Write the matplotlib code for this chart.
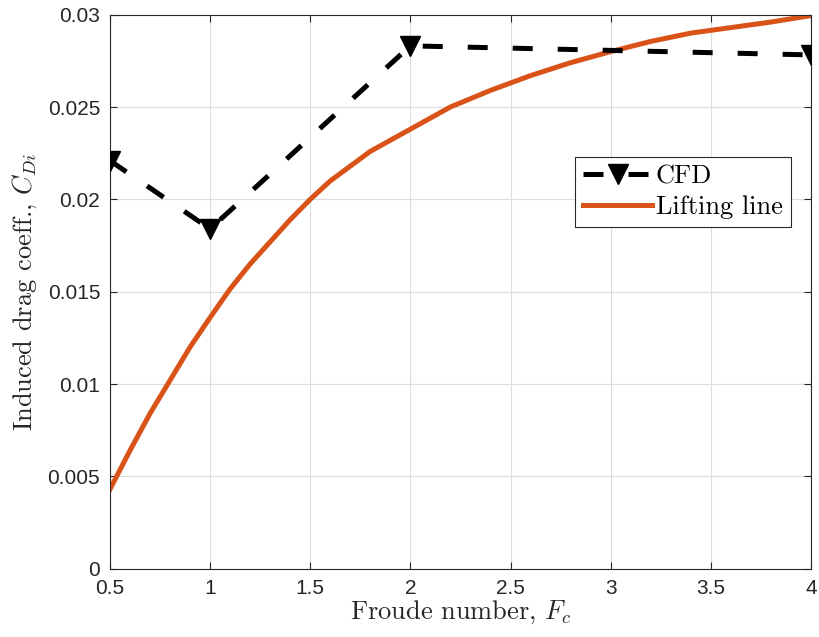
import numpy as np
import matplotlib
matplotlib.use('Agg')
import matplotlib.pyplot as plt

# CFD results
fc_cfd = [0.5, 1.0, 2.0, 4.0]
cd_cfd = [0.0221, 0.0184, 0.02831, 0.02782]

# lifting line theory
fc_ll = [0.5, 0.6, 0.7, 0.8, 0.9, 1.0, 1.1, 1.2, 1.3, 1.4, 1.5, 1.6, 1.7, 1.8,
         1.9, 2.0, 2.2, 2.4, 2.6, 2.8, 3.0, 3.2, 3.4, 3.6, 3.8, 4.0]
cd_ll = [0.0043, 0.0064, 0.0084, 0.0102, 0.0120, 0.0136, 0.01515, 0.0165, 0.0177,
         0.0189, 0.0200, 0.0210, 0.0218, 0.0226, 0.0232, 0.0238, 0.0250, 0.0259,
         0.0267, 0.0274, 0.0280, 0.02855, 0.0290, 0.0293, 0.0296, 0.02995]

xticks = [0.5, 1, 1.5, 2, 2.5, 3, 3.5, 4]
yticks = [0, 0.005, 0.01, 0.015, 0.02, 0.025, 0.03]

plt.rcParams['mathtext.fontset'] = 'cm'
axcol = '#262626'

fig = plt.figure(figsize=(8.2, 6.37), dpi=100)
ax = fig.add_axes([0.134, 0.107, 0.855, 0.870])

ax.plot(fc_cfd, cd_cfd, color='k', linewidth=3.6, dashes=(4, 5),
        marker='v', markersize=15, label='CFD', zorder=3)
ax.plot(fc_ll, cd_ll, color='#D95319', linewidth=3.6, label='Lifting line',
        zorder=2)

ax.set_xlim(0.5, 4)
ax.set_ylim(0, 0.03)
ax.set_xticks(xticks)
ax.set_yticks(yticks)
ax.set_xticklabels(['%g' % t for t in xticks])
ax.set_yticklabels(['%g' % t for t in yticks])
ax.tick_params(direction='in', length=5, width=0.8, top=True, right=True,
               labelsize=15, colors=axcol, labelcolor=axcol, pad=7)
for lab in ax.get_xticklabels() + ax.get_yticklabels():
    lab.set_family('Liberation Sans')
for s in ax.spines.values():
    s.set_color(axcol)
    s.set_linewidth(0.8)
ax.grid(True, color='#dcdcdc', linewidth=0.8)
ax.set_axisbelow(True)

ax.set_xlabel('Froude number, $F_c$', family='cmr10', fontsize=19,
              color=axcol, labelpad=1)
ax.set_ylabel('Induced drag coeff., $C_{Di}$', family='cmr10', fontsize=19,
              color=axcol, labelpad=6)

leg = ax.legend(loc='upper right', bbox_to_anchor=(0.971, 0.743),
                prop={'family': 'cmr10', 'size': 19}, fancybox=False,
                framealpha=1, edgecolor=axcol, handlelength=2.6,
                borderpad=0.3, labelspacing=0.25, handletextpad=0.15,
                borderaxespad=0)
leg.get_frame().set_linewidth(0.8)

fig.savefig('out.png', dpi=100)
